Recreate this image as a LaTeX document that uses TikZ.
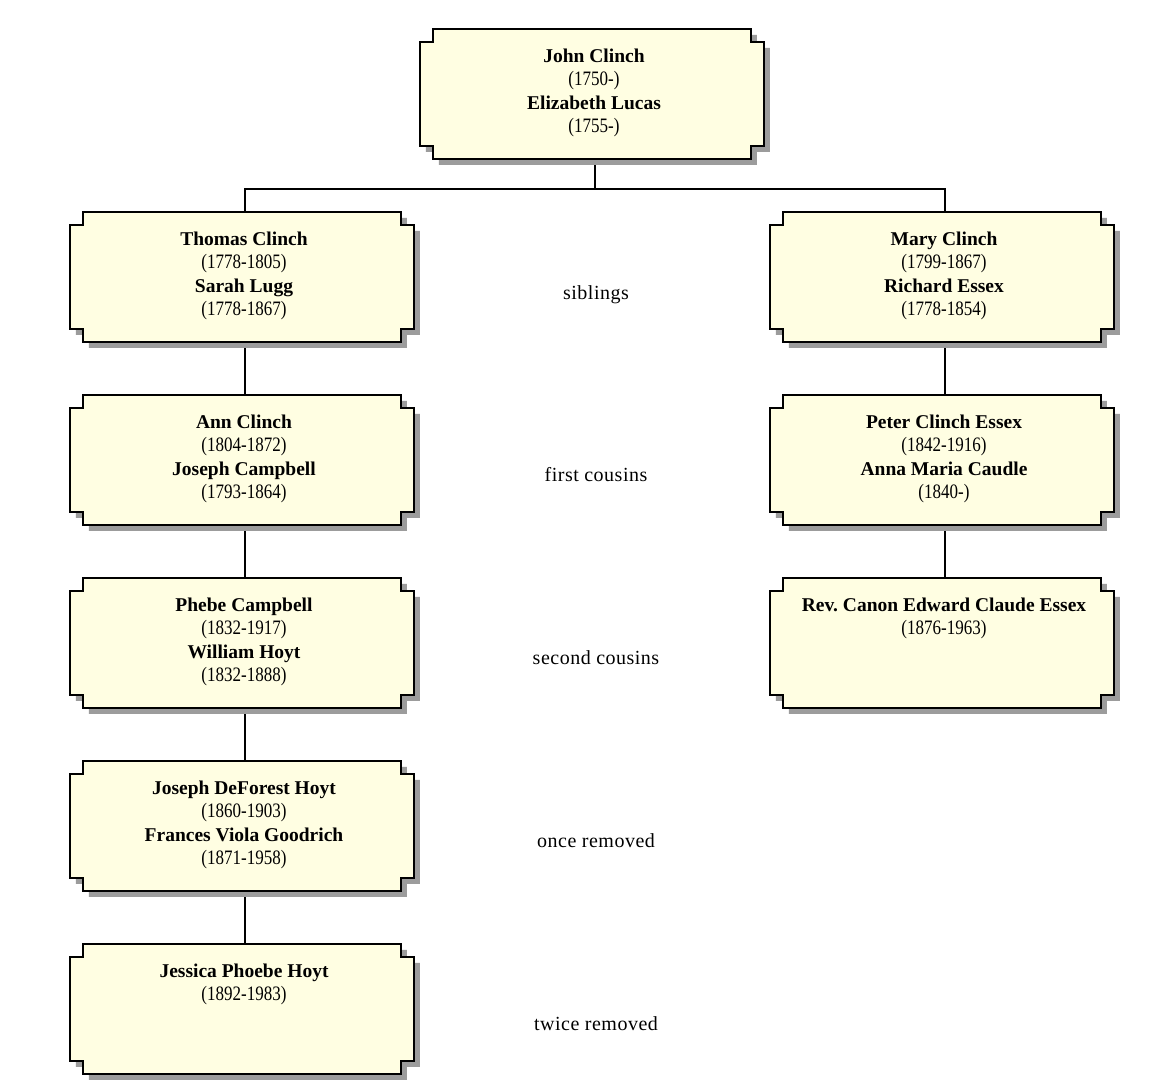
\documentclass[tikz,border=0pt]{standalone}
\usepackage{fontspec}
\setmainfont{Liberation Serif}
\newfontfamily\lblfont[LetterSpace=2.5]{Liberation Serif}
\usetikzlibrary{calc}
\definecolor{boxfill}{HTML}{FFFEE2}
\definecolor{shadowc}{HTML}{9C9C9C}
\newcommand\dt[1]{\scalebox{0.83}[1]{\fontsize{20.5pt}{23.5pt}\selectfont #1}}
% notched outline around a named node: #1 node, #2 shift, #3 options
\newcommand\notchshape[3]{%
  \path[#3] ([shift={(#2)}]#1.north west) ++(13,0) -- ++(318,0) -- ++(0,-13) -- ++(13,0)
    -- ++(0,-104) -- ++(-13,0) -- ++(0,-13) -- ++(-318,0) -- ++(0,13) -- ++(-13,0)
    -- ++(0,104) -- ++(13,0) -- cycle;}
\newcommand\fambox[1]{%
  \notchshape{#1}{6,-6}{fill=shadowc}%
  \notchshape{#1}{0,0}{fill=boxfill,draw=black,line width=1.8pt}}
\tikzset{
  famnode/.style={rectangle,minimum width=344pt,minimum height=130pt,inner sep=0pt,draw=none},
  famtxt/.style={anchor=base,inner sep=0pt,font=\fontsize{19.5pt}{23.5pt}\selectfont\frenchspacing},
  rellbl/.style={anchor=base,inner sep=0pt,font=\fontsize{20pt}{24pt}\selectfont\lblfont},
  conn/.style={line width=1.4pt,draw=black}
}
\begin{document}
\begin{tikzpicture}[x=1pt,y=1pt]
\useasboundingbox[fill=white] (0,0) rectangle (1156,-1085);
% box placeholders
\node[famnode] (T)  at (592,-94) {};
\node[famnode] (L1) at (242,-277) {};
\node[famnode] (L2) at (242,-460) {};
\node[famnode] (L3) at (242,-643) {};
\node[famnode] (L4) at (242,-826) {};
\node[famnode] (L5) at (242,-1009) {};
\node[famnode] (R1) at (942,-277) {};
\node[famnode] (R2) at (942,-460) {};
\node[famnode] (R3) at (942,-643) {};
% connectors
\coordinate (j) at (595,-189);
\draw[conn] ([xshift=3pt]T.south) -- (j);
\draw[conn] ([xshift=3pt]L1.north) |- (j);
\draw[conn] ([xshift=3pt]R1.north) |- (j);
\draw[conn] ([xshift=3pt]L1.south) -- ([xshift=3pt]L2.north);
\draw[conn] ([xshift=3pt]L2.south) -- ([xshift=3pt]L3.north);
\draw[conn] ([xshift=3pt]L3.south) -- ([xshift=3pt]L4.north);
\draw[conn] ([xshift=3pt]L4.south) -- ([xshift=3pt]L5.north);
\draw[conn] ([xshift=3pt]R1.south) -- ([xshift=3pt]R2.north);
\draw[conn] ([xshift=3pt]R2.south) -- ([xshift=3pt]R3.north);
% boxes
\fambox{T}\fambox{L1}\fambox{L2}\fambox{L3}\fambox{L4}\fambox{L5}
\fambox{R1}\fambox{R2}\fambox{R3}
% texts
\node[famtxt] (tT) at ($(T.north)+(2,-33.5)$) {\begin{tabular}[t]{@{}c@{}}\textbf{John Clinch}\\ \dt{(1750-)}\\ \textbf{Elizabeth Lucas}\\ \dt{(1755-)}\end{tabular}};
\node[famtxt] (tL1) at ($(L1.north)+(2,-33.5)$) {\begin{tabular}[t]{@{}c@{}}\textbf{Thomas Clinch}\\ \dt{(1778-1805)}\\ \textbf{Sarah Lugg}\\ \dt{(1778-1867)}\end{tabular}};
\node[famtxt] (tL2) at ($(L2.north)+(2,-33.5)$) {\begin{tabular}[t]{@{}c@{}}\textbf{Ann Clinch}\\ \dt{(1804-1872)}\\ \textbf{Joseph Campbell}\\ \dt{(1793-1864)}\end{tabular}};
\node[famtxt] (tL3) at ($(L3.north)+(2,-33.5)$) {\begin{tabular}[t]{@{}c@{}}\textbf{Phebe Campbell}\\ \dt{(1832-1917)}\\ \textbf{William Hoyt}\\ \dt{(1832-1888)}\end{tabular}};
\node[famtxt] (tL4) at ($(L4.north)+(2,-33.5)$) {\begin{tabular}[t]{@{}c@{}}\textbf{Joseph DeForest Hoyt}\\ \dt{(1860-1903)}\\ \textbf{Frances Viola Goodrich}\\ \dt{(1871-1958)}\end{tabular}};
\node[famtxt] (tL5) at ($(L5.north)+(2,-33.5)$) {\begin{tabular}[t]{@{}c@{}}\textbf{Jessica Phoebe Hoyt}\\ \dt{(1892-1983)}\end{tabular}};
\node[famtxt] (tR1) at ($(R1.north)+(2,-33.5)$) {\begin{tabular}[t]{@{}c@{}}\textbf{Mary Clinch}\\ \dt{(1799-1867)}\\ \textbf{Richard Essex}\\ \dt{(1778-1854)}\end{tabular}};
\node[famtxt] (tR2) at ($(R2.north)+(2,-33.5)$) {\begin{tabular}[t]{@{}c@{}}\textbf{Peter Clinch Essex}\\ \dt{(1842-1916)}\\ \textbf{Anna Maria Caudle}\\ \dt{(1840-)}\end{tabular}};
\node[famtxt] (tR3) at ($(R3.north)+(2,-33.5)$) {\begin{tabular}[t]{@{}c@{}}\textbf{Rev. Canon Edward Claude Essex}\\ \dt{(1876-1963)}\end{tabular}};
% relationship labels
\node[rellbl] (r1) at (596,-299) {siblings};
\node[rellbl] (r2) at (596,-481) {first cousins};
\node[rellbl] (r3) at (596,-664) {second cousins};
\node[rellbl] (r4) at (596,-847) {once removed};
\node[rellbl] (r5) at (596,-1030) {twice removed};
\end{tikzpicture}
\end{document}
